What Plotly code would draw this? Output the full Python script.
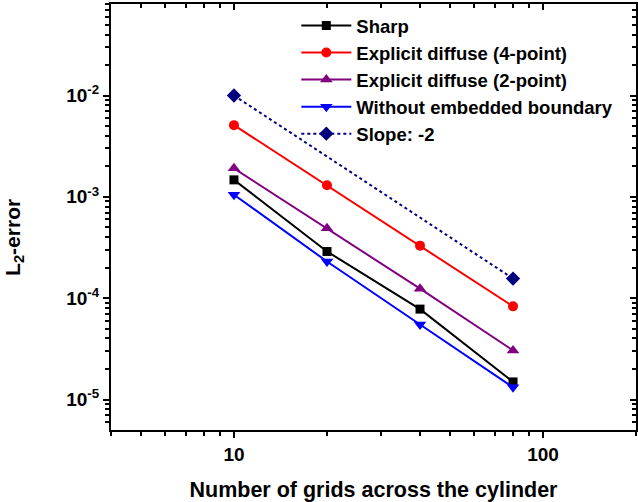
import plotly.graph_objects as go
import numpy as np

grids = [10, 20, 40, 80]
sharp = [1.47e-3, 2.89e-4, 7.8e-5, 1.49e-5]
diffuse4 = [5.1e-3, 1.30e-3, 3.3e-4, 8.3e-5]
diffuse2 = [1.91e-3, 4.9e-4, 1.24e-4, 3.05e-5]
no_boundary = [1.05e-3, 2.3e-4, 5.5e-5, 1.32e-5]
slope_x = [10, 80]
slope_y = [1.0e-2, 1.5625e-4]

x_ticks = [10, 100]
x_ticktext = ["<b>10</b>", "<b>100</b>"]
x_minor = [4, 5, 6, 7, 8, 9, 20, 30, 40, 50, 60, 70, 80, 90, 200]
y_ticks = [1e-5, 1e-4, 1e-3, 1e-2]
y_ticktext = ["<b>10<sup>-5</sup></b>", "<b>10<sup>-4</sup></b>", "<b>10<sup>-3</sup></b>", "<b>10<sup>-2</sup></b>"]
y_minor = [m * 10.0 ** e for e in range(-6, -1) for m in range(2, 10)]
y_minor = [v for v in y_minor if 5e-6 <= v <= 0.08 and v not in y_ticks]

FONT = "Liberation Sans, Arial, sans-serif"

fig = go.Figure()
series = [
    ("Sharp", grids, sharp, "black", "square", "solid", 9),
    ("Explicit diffuse (4-point)", grids, diffuse4, "#ff0000", "circle", "solid", 10),
    ("Explicit diffuse (2-point)", grids, diffuse2, "#800080", "triangle-up", "solid", 11),
    ("Without embedded boundary", grids, no_boundary, "#0000ff", "triangle-down", "solid", 11),
    ("Slope: -2", slope_x, slope_y, "#00007f", "diamond", "dot", 11),
]
for name, xs, ys, col, sym, dash, ms in series:
    fig.add_trace(go.Scatter(
        x=xs, y=ys, name=f"<b>{name}</b>", mode="lines+markers",
        line=dict(color=col, width=2, dash=dash),
        marker=dict(symbol=sym, size=ms, color=col),
    ))

# invisible trace to activate mirrored axes
fig.add_trace(go.Scatter(x=[10], y=[1e-3], xaxis="x2", yaxis="y2", mode="markers",
                         marker=dict(opacity=0), showlegend=False, hoverinfo="skip"))

xr = [np.log10(4), np.log10(200)]
yr = [np.log10(5e-6), np.log10(0.08)]
tickfont = dict(family=FONT, size=19, color="black")

fig.update_layout(
    width=638, height=502,
    margin=dict(l=111, r=2, t=4, b=72),
    paper_bgcolor="white", plot_bgcolor="white",
    font=dict(family=FONT, color="black"),
    xaxis=dict(
        type="log", range=xr, tickvals=x_ticks, ticktext=x_ticktext,
        ticks="outside", ticklen=6, tickwidth=2, tickcolor="black",
        showline=True, linewidth=2, linecolor="black", showgrid=False, zeroline=False,
        tickfont=tickfont,
        minor=dict(tickvals=x_minor, ticks="outside", ticklen=4, tickwidth=2, tickcolor="black", showgrid=False),
        title=dict(text="<b>Number of grids across the cylinder</b>", font=dict(family=FONT, size=21.5), standoff=18),
    ),
    yaxis=dict(
        type="log", range=yr, tickvals=y_ticks, ticktext=y_ticktext,
        ticks="outside", ticklen=6, tickwidth=2, tickcolor="black",
        showline=True, linewidth=2, linecolor="black", showgrid=False, zeroline=False,
        tickfont=tickfont,
        minor=dict(tickvals=y_minor, ticks="outside", ticklen=4, tickwidth=2, tickcolor="black", showgrid=False),
    ),
    xaxis2=dict(
        type="log", range=xr, overlaying="x", side="top", anchor="y",
        tickvals=x_ticks, showticklabels=False,
        ticks="inside", ticklen=6, tickwidth=2, tickcolor="black",
        showline=True, linewidth=2, linecolor="black", showgrid=False, zeroline=False,
        minor=dict(tickvals=x_minor, ticks="inside", ticklen=4, tickwidth=2, tickcolor="black", showgrid=False),
    ),
    yaxis2=dict(
        type="log", range=yr, overlaying="y", side="right", anchor="x",
        tickvals=y_ticks, showticklabels=False,
        ticks="inside", ticklen=6, tickwidth=2, tickcolor="black",
        showline=True, linewidth=2, linecolor="black", showgrid=False, zeroline=False,
        minor=dict(tickvals=y_minor, ticks="inside", ticklen=4, tickwidth=2, tickcolor="black", showgrid=False),
    ),
    legend=dict(
        x=0.353, y=0.993, xanchor="left", yanchor="top",
        bgcolor="rgba(0,0,0,0)", borderwidth=0,
        font=dict(family=FONT, size=18.5, color="black"),
        itemwidth=50, tracegroupgap=0,
    ),
    annotations=[dict(
        text="<b>L<sub>2</sub>-error</b>", textangle=-90,
        xref="paper", yref="paper", x=-0.185, y=(502 - 72 - 237) / (502 - 76),
        xanchor="center", yanchor="middle", showarrow=False,
        font=dict(family=FONT, size=21, color="black"),
    )],
)

fig.write_html("out.html")
